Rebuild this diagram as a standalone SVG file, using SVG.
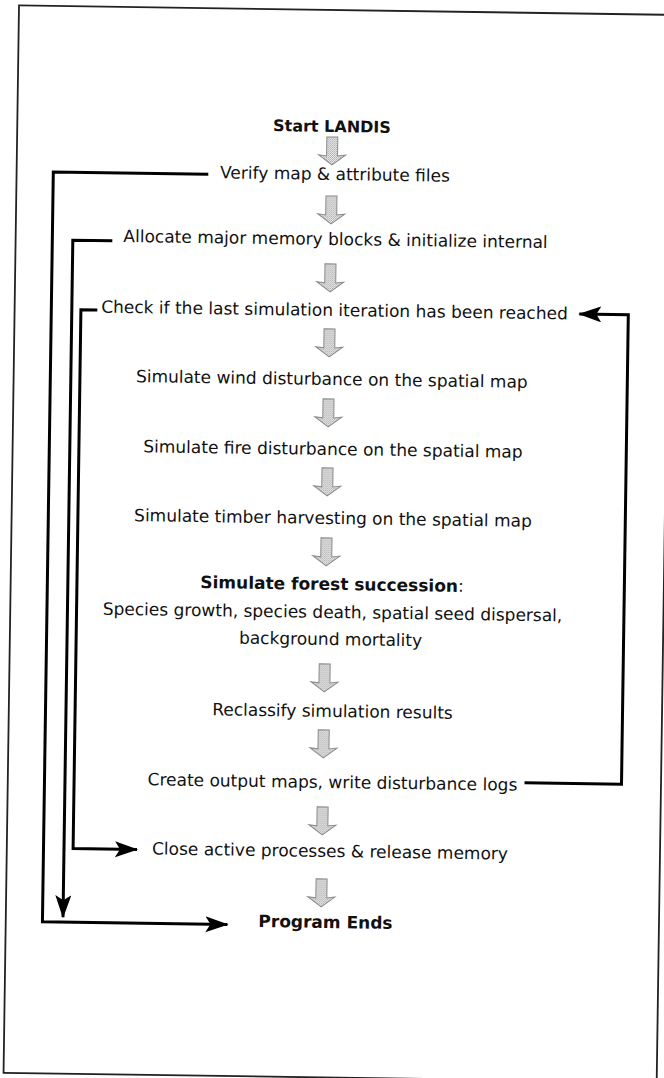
<svg xmlns="http://www.w3.org/2000/svg" xmlns:xlink="http://www.w3.org/1999/xlink" width="664" height="1078" viewBox="0 0 664 1078">
<style>
text{font-family:"DejaVu Sans","Liberation Sans",sans-serif;font-size:17px;fill:#111;text-anchor:middle}
.b{font-weight:bold}
.s{font-size:16px}
.ln{fill:none;stroke:#000;stroke-width:3}
.frame{fill:none;stroke:#222;stroke-width:1.8}
</style>
<defs>
<pattern id="dots" width="2" height="2" patternUnits="userSpaceOnUse">
<rect width="2" height="2" fill="#ececec"/>
<rect width="1" height="1" fill="#a8a8a8"/>
<rect x="1" y="1" width="1" height="1" fill="#bdbdbd"/>
</pattern>
<path id="blk" d="M-5.5,0 H5.5 V19 L13.5,18 L0,28 L-13.5,18 L-5.5,19 Z" fill="url(#dots)" stroke="#8a8a8a" stroke-width="1"/>
<marker id="ah" markerUnits="userSpaceOnUse" markerWidth="26" markerHeight="18" refX="22" refY="8" orient="auto" viewBox="0 0 26 18">
<path d="M0,0 L23,8 L0,16 L5,8 Z" fill="#000"/>
</marker>
</defs>
<g transform="rotate(0.83 332 540)">
<rect class="frame" x="11.3" y="10" width="653.2" height="1067.5"/>
<g id="connectors">
<use xlink:href="#blk" x="326.5" y="137"/>
<use xlink:href="#blk" x="326.5" y="196"/>
<use xlink:href="#blk" x="326.5" y="264"/>
<use xlink:href="#blk" x="326.5" y="329"/>
<use xlink:href="#blk" x="326.5" y="399"/>
<use xlink:href="#blk" x="326.5" y="468"/>
<use xlink:href="#blk" x="326.5" y="538"/>
<use xlink:href="#blk" x="326.5" y="664"/>
<use xlink:href="#blk" x="326.5" y="730"/>
<use xlink:href="#blk" x="326.5" y="807"/>
<use xlink:href="#blk" x="326.5" y="879"/>
<path class="ln" d="M203,176 H48 V926 H233" marker-end="url(#ah)"/>
<path class="ln" d="M108,244 H68.5 V921" marker-end="url(#ah)"/>
<path class="ln" d="M94,313.5 H77.6 V852.3 H141.5" marker-end="url(#ah)"/>
<path class="ln" d="M528,780 H625 V310.5 H576" marker-end="url(#ah)"/>
</g>
<g id="start"><text class="b s" x="326" y="132">Start LANDIS</text></g>
<g id="verify"><text x="329.7" y="180">Verify map &amp; attribute files</text></g>
<g id="allocate"><text x="331.2" y="245">Allocate major memory blocks &amp; initialize internal</text></g>
<g id="check"><text x="331.2" y="316">Check if the last simulation iteration has been reached</text></g>
<g id="wind"><text x="329.5" y="385">Simulate wind disturbance on the spatial map</text></g>
<g id="fire"><text x="331.7" y="455">Simulate fire disturbance on the spatial map</text></g>
<g id="timber"><text x="332.7" y="524">Simulate timber harvesting on the spatial map</text></g>
<g id="succession"><text x="332.7" y="590"><tspan class="b">Simulate forest succession</tspan>:</text><text x="333.6" y="618">Species growth, species death, spatial seed dispersal,</text><text x="332" y="645">background mortality</text></g>
<g id="reclassify"><text x="335" y="717">Reclassify simulation results</text></g>
<g id="output"><text x="336" y="788">Create output maps, write disturbance logs</text></g>
<g id="close"><text x="334.5" y="857">Close active processes &amp; release memory</text></g>
<g id="end"><text class="b" x="331" y="928">Program Ends</text></g>
</g>
</svg>
